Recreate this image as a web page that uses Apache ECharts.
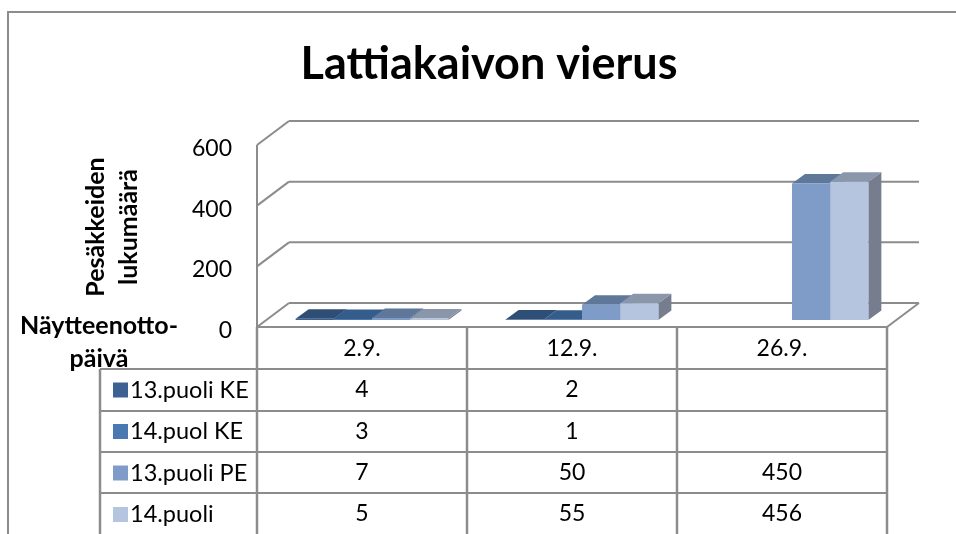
<!DOCTYPE html>
<html>
<head>
<meta charset="utf-8">
<title>Lattiakaivon vierus</title>
<script src="https://cdn.jsdelivr.net/npm/echarts@6/dist/echarts.min.js"></script>
<style>
  html, body { margin: 0; padding: 0; background: #fff; }
  #chart { width: 956px; height: 534px; }
</style>
</head>
<body>
<div id="chart"></div>
<script>
const dates = ["2.9.", "12.9.", "26.9."];
const seriesNames = ["13.puoli KE", "14.puol KE", "13.puoli PE", "14.puoli"];
const puoli13KE = [4, 2, null];
const puoli14KE = [3, 1, null];
const puoli13PE = [7, 50, 450];
const puoli14 = [5, 55, 456];
const yTicks = [0, 200, 400, 600];

const seriesValues = [puoli13KE, puoli14KE, puoli13PE, puoli14];
const frontColors = ["#3b6291", "#4a78b0", "#7f9cc9", "#b5c4df"];
const topColors = ["#2f4e75", "#355d8c", "#5f7799", "#8a97ab"];
const sideColors = ["#294463", "#2f5379", "#56698a", "#757d8e"];

const lineColor = "#8c8c8c";
const fontName = "Lato, Carlito, sans-serif";

// 3D illusion: floor depth and where the bars stand on it
const wallDepth = [32, -24];
const barStand = [10, -7];
const barDepth = [13, -9.5];

const chart = echarts.init(document.getElementById("chart"));

function line(x1, y1, x2, y2, width) {
  return {
    type: "line",
    shape: { x1, y1, x2, y2 },
    style: { stroke: lineColor, lineWidth: width || 2 },
  };
}

function renderWalls(params, api) {
  const grid = params.coordSys;
  const y = api.coord([0, api.value(0)])[1];
  const left = grid.x;
  const right = grid.x + grid.width;
  const children = [
    line(left, y, left + wallDepth[0], y + wallDepth[1]),
    line(left + wallDepth[0], y + wallDepth[1], right + wallDepth[0], y + wallDepth[1]),
  ];
  if (api.value(0) === 0) {
    children.push(line(left, grid.y, left, y));
    children.push(line(left, y, right, y));
    children.push(line(right, y, right + wallDepth[0], y + wallDepth[1]));
  }
  return { type: "group", children };
}

function renderBar(seriesIndex) {
  return function (params, api) {
    const value = api.value(1);
    if (isNaN(value)) return null;
    const band = api.size([1, 0])[0];
    const barWidth = band / 5.5;
    const base = api.coord([api.value(0), 0]);
    const top = api.coord([api.value(0), value]);
    const x0 = base[0] + barStand[0] - 2 * barWidth + seriesIndex * barWidth;
    const x1 = x0 + barWidth;
    const yBase = base[1] + barStand[1];
    const yTop = top[1] + barStand[1];
    const dx = barDepth[0];
    const dy = barDepth[1];
    return {
      type: "group",
      children: [
        {
          type: "polygon",
          shape: { points: [[x1, yBase], [x1 + dx, yBase + dy], [x1 + dx, yTop + dy], [x1, yTop]] },
          style: { fill: sideColors[seriesIndex] },
        },
        {
          type: "polygon",
          shape: { points: [[x0, yTop], [x0 + dx, yTop + dy], [x1 + dx, yTop + dy], [x1, yTop]] },
          style: { fill: topColors[seriesIndex] },
        },
        {
          type: "rect",
          shape: { x: x0, y: yTop, width: barWidth, height: yBase - yTop },
          style: { fill: frontColors[seriesIndex] },
        },
      ],
    };
  };
}

// data table under the chart, columns follow the category axis
const tableRows = [369, 411, 452, 493, 534];
const legendColumnX = 100;

function renderTable(params, api) {
  const grid = params.coordSys;
  const bottom = tableRows[tableRows.length - 1];
  const band = grid.width / dates.length;
  const children = [];
  children.push(line(legendColumnX, tableRows[0], grid.x + grid.width, tableRows[0]));
  tableRows.slice(1, -1).forEach((y) => {
    children.push(line(legendColumnX, y, grid.x + grid.width, y));
  });
  children.push(line(legendColumnX, tableRows[0], legendColumnX, bottom, 2.5));
  for (let i = 0; i <= dates.length; i++) {
    const x = grid.x + band * i;
    children.push(line(x, grid.y + grid.height, x, bottom, 2.5));
  }
  seriesValues.forEach((values, row) => {
    values.forEach((v, col) => {
      if (v === null) return;
      children.push({
        type: "text",
        style: {
          text: String(v),
          x: api.coord([col, 0])[0],
          y: (tableRows[row] + tableRows[row + 1]) / 2,
          align: "center",
          verticalAlign: "middle",
          font: "23px " + fontName,
          fill: "#000",
        },
      });
    });
  });
  return { type: "group", children };
}

const barSeries = seriesNames.map((name, idx) => ({
  name,
  type: "custom",
  coordinateSystem: "cartesian2d",
  renderItem: renderBar(idx),
  itemStyle: { color: frontColors[idx] },
  encode: { x: 0, y: 1 },
  data: seriesValues[idx].map((v, i) => [i, v]),
}));

chart.setOption({
  animation: false,
  backgroundColor: "#fff",
  title: {
    text: "Lattiakaivon vierus",
    left: 484,
    top: 37,
    textAlign: "center",
    textStyle: { fontFamily: fontName, fontSize: 45, fontWeight: "bold", color: "#000" },
  },
  legend: {
    data: seriesNames,
    orient: "vertical",
    left: 108,
    top: 373,
    height: 170,
    icon: "rect",
    itemWidth: 15,
    itemHeight: 15,
    itemGap: 17.5,
    itemStyle: { borderWidth: 0 },
    selectedMode: false,
    textStyle: { fontFamily: fontName, fontSize: 23.5, color: "#000", padding: [0, 0, 0, -3] },
  },
  grid: { left: 257, top: 145, width: 630, height: 182 },
  xAxis: {
    type: "category",
    data: dates,
    axisLine: { show: false },
    axisTick: { show: false },
    axisLabel: { fontFamily: fontName, fontSize: 23, color: "#000", margin: 10 },
    name: "Näytteenotto-\npäivä",
    nameLocation: "start",
    nameGap: 158,
    nameTextStyle: {
      fontFamily: fontName,
      fontSize: 25,
      fontWeight: "bold",
      color: "#000",
      align: "center",
      verticalAlign: "top",
      lineHeight: 33,
      padding: [-18, 0, 0, 0],
    },
  },
  yAxis: {
    type: "value",
    min: 0,
    max: 600,
    interval: 200,
    axisLine: { show: false },
    axisTick: { show: false },
    splitLine: { show: false },
    axisLabel: {
      fontFamily: fontName,
      fontSize: 23,
      color: "#000",
      margin: 25,
      verticalAlign: "top",
      padding: [-8, 0, 0, 0],
    },
    name: "Pesäkkeiden\nlukumäärä",
    nameLocation: "middle",
    nameRotate: 90,
    nameGap: 112,
    nameTextStyle: {
      fontFamily: fontName,
      fontSize: 25,
      fontWeight: "bold",
      color: "#000",
      lineHeight: 33,
      padding: [0, 0, 0, 18],
    },
  },
  graphic: [
    {
      type: "polyline",
      shape: { points: [[8, 534], [8, 12], [956, 12]] },
      style: { stroke: lineColor, lineWidth: 2, fill: null },
      silent: true,
    },
  ],
  series: [
    {
      name: "walls",
      type: "custom",
      coordinateSystem: "cartesian2d",
      renderItem: renderWalls,
      encode: { y: 0 },
      data: yTicks.map((t) => [t]),
      silent: true,
      z: 1,
    },
    ...barSeries,
    {
      name: "table",
      type: "custom",
      coordinateSystem: "cartesian2d",
      renderItem: renderTable,
      data: [[0]],
      silent: true,
      z: 3,
    },
  ],
});

window.addEventListener("resize", () => chart.resize());
</script>
</body>
</html>
